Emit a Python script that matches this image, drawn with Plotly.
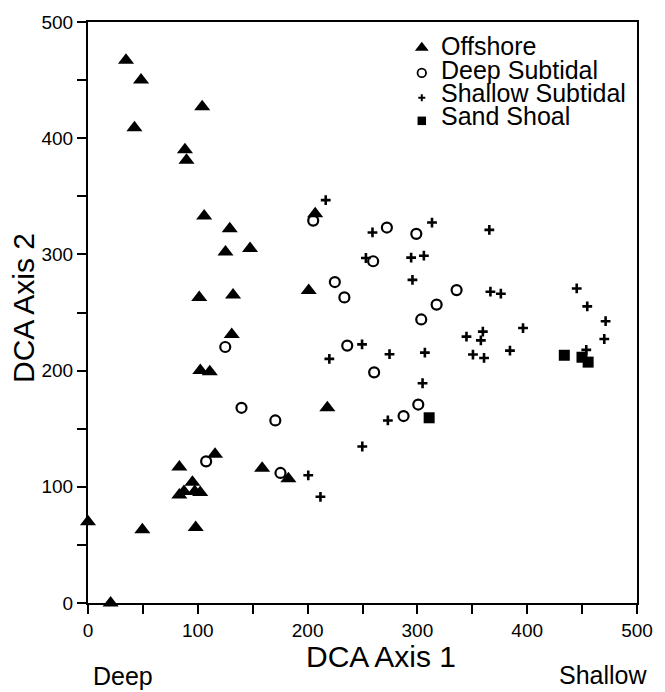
import plotly.graph_objects as go

# ---- data ----
offshore_x = [34.6, 48.3, 104.0, 42.3, 88.3, 89.7, 105.8, 129.1, 125.2, 147.6, 101.3, 132.1,
              130.9, 102.3, 110.9, 83.2, 115.7, 158.6, 83.2, 87.4, 95.1, 97.2, 102.2,
              0.0, 49.5, 98.1, 20.6, 182.5, 206.9, 201.0, 218.0]
offshore_y = [467, 450, 427, 409, 390, 381, 333, 322, 302, 305, 263, 265,
              231, 200, 199, 117, 128, 116, 93, 96, 104, 96, 95,
              70, 63, 65, 0, 107, 335, 269, 168]

deep_x = [125.0, 139.8, 170.6, 107.6, 175.3, 205.1, 272.2, 299.0, 259.7, 224.8, 233.5,
          335.7, 317.5, 303.5, 236.1, 260.6, 300.8, 287.4]
deep_y = [220.3, 168.0, 157.1, 121.9, 111.9, 329.1, 323.1, 317.7, 294.1, 276.2, 263.0,
          269.3, 256.8, 244.0, 221.5, 198.5, 170.8, 160.9]

shallow_x = [216.5, 259.1, 313.3, 253.1, 294.3, 305.9, 295.5, 249.6, 219.8, 274.6, 306.8,
             304.7, 273.1, 249.8, 200.6, 211.7, 365.5, 366.5, 376.0, 445.1, 454.7, 471.4,
             470.2, 396.2, 344.7, 359.6, 357.8, 350.6, 360.7, 384.3, 453.8]
shallow_y = [346.7, 318.9, 327.4, 296.9, 297.2, 298.9, 278.1, 222.6, 210.1, 214.1, 215.5,
             189.1, 157.1, 134.7, 109.9, 91.4, 321.1, 267.9, 266.2, 270.7, 255.3, 242.5,
             227.2, 236.6, 229.2, 233.5, 226.0, 213.8, 210.9, 217.2, 217.8]

sand_x = [310.7, 433.8, 449.9, 455.5]
sand_y = [159.4, 213.2, 211.5, 207.3]

groups = ["Offshore", "Deep Subtidal", "Shallow Subtidal", "Sand Shoal"]
x_ticks = [0, 100, 200, 300, 400, 500]
y_ticks = [0, 100, 200, 300, 400, 500]

FONT = "Liberation Sans, Arial, Helvetica, sans-serif"
BLACK = "#000000"

fig = go.Figure()

styles = [
    dict(symbol="triangle-up", size=14, color=BLACK, line=dict(width=0)),
    dict(symbol="circle-open", size=10, color=BLACK, line=dict(width=2.2, color=BLACK)),
    dict(symbol="cross-thin-open", size=7, color=BLACK, line=dict(width=2.6, color=BLACK)),
    dict(symbol="square", size=11, color=BLACK, line=dict(width=0)),
]
series = [(offshore_x, offshore_y), (deep_x, deep_y), (shallow_x, shallow_y), (sand_x, sand_y)]

for name, (xs, ys), st in zip(groups, series, styles):
    fig.add_trace(go.Scatter(x=xs, y=ys, mode="markers", name=name, marker=st,
                             cliponaxis=False, showlegend=False, hoverinfo="x+y+name"))

# ---- custom legend (tight line spacing like the reference) ----
leg_sym_x = 0.608
leg_sym_y = [0.9556, 0.9124, 0.8698, 0.8299]
leg_styles = [
    dict(symbol="triangle-up", size=12, color=BLACK, line=dict(width=0)),
    dict(symbol="circle-open", size=8.5, color=BLACK, line=dict(width=1.8, color=BLACK)),
    dict(symbol="cross-thin-open", size=5, color=BLACK, line=dict(width=2, color=BLACK)),
    dict(symbol="square", size=8.5, color=BLACK, line=dict(width=0)),
]
for yy, st in zip(leg_sym_y, leg_styles):
    fig.add_trace(go.Scatter(x=[leg_sym_x], y=[yy], mode="markers", marker=st,
                             xaxis="x2", yaxis="y2", showlegend=False, hoverinfo="skip",
                             cliponaxis=False))

leg_text_y = [0.9580, 0.9181, 0.8775, 0.8379]
annotations = []
for name, yy in zip(groups, leg_text_y):
    annotations.append(dict(text=name, x=0.6393, y=yy, xref="paper", yref="paper",
                            xanchor="left", yanchor="middle", showarrow=False,
                            font=dict(family=FONT, size=25, color=BLACK)))

annotations += [
    dict(text="DCA Axis 1", x=0.534, y=-0.092, xref="paper", yref="paper",
         xanchor="center", yanchor="middle", showarrow=False,
         font=dict(family=FONT, size=30, color=BLACK)),
    dict(text="DCA Axis 2", x=-0.1184, y=0.5077, xref="paper", yref="paper",
         xanchor="center", yanchor="middle", textangle=-90, showarrow=False,
         font=dict(family=FONT, size=30, color=BLACK)),
    dict(text="Deep", x=0.0048, y=-0.1254, xref="paper", yref="paper",
         xanchor="left", yanchor="middle", showarrow=False,
         font=dict(family=FONT, size=25, color=BLACK)),
    dict(text="Shallow", x=1.0214, y=-0.1246, xref="paper", yref="paper",
         xanchor="right", yanchor="middle", showarrow=False,
         font=dict(family=FONT, size=25, color=BLACK)),
]

axis_common = dict(
    showgrid=False, zeroline=False, showline=True, linecolor=BLACK, linewidth=2,
    mirror=True, ticks="outside", ticklen=9, tickwidth=1.5, tickcolor=BLACK,
    tickfont=dict(family=FONT, size=19, color=BLACK),
    minor=dict(dtick=50, ticks="outside", ticklen=9, tickwidth=1.5, tickcolor=BLACK, showgrid=False),
)

fig.update_layout(
    width=665, height=692,
    margin=dict(l=88, r=17, t=17, b=89, pad=0),
    paper_bgcolor="white", plot_bgcolor="white",
    showlegend=False,
    xaxis=dict(range=[0, 500], tickvals=x_ticks, ticktext=[str(v) for v in x_ticks], **axis_common),
    yaxis=dict(range=[0, 500], tickvals=y_ticks, ticktext=[str(v) for v in y_ticks], **axis_common),
    xaxis2=dict(range=[0, 1], overlaying="x", visible=False, fixedrange=True),
    yaxis2=dict(range=[0, 1], overlaying="y", visible=False, fixedrange=True),
    annotations=annotations,
)

fig.write_html("out.html", config={"displayModeBar": False},
               post_script="document.body.style.margin='0';document.body.style.overflow='hidden';")
